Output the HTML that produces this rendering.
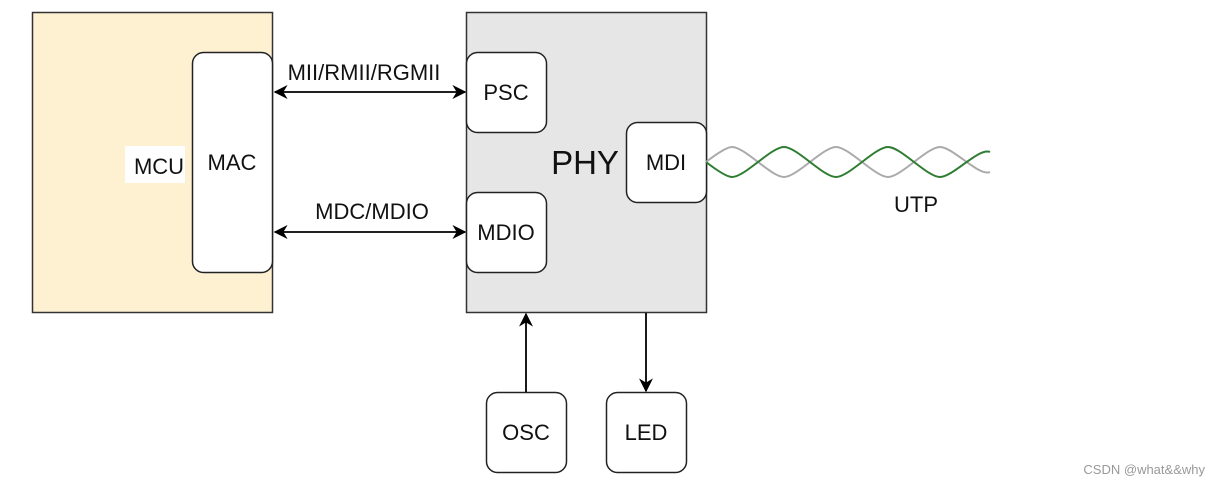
<!DOCTYPE html>
<html><head><style>
body{margin:0;background:#fff;}
svg{display:block;font-family:"Liberation Sans",sans-serif;}
</style></head><body>
<svg width="1219" height="487" viewBox="0 0 1219 487">
<defs>
<marker id="a" viewBox="0 0 10 10" refX="9" refY="5" markerWidth="14" markerHeight="14" markerUnits="userSpaceOnUse" orient="auto-start-reverse"><path d="M0,0 L10,5 L0,10 L3,5 z" fill="#000"/></marker>
</defs>
<rect x="32.5" y="12.5" width="240" height="300" fill="#fdf1d2" stroke="#333" stroke-width="1.5"/>
<rect x="125" y="146" width="60" height="37" fill="#fff"/>
<text x="159" y="174" font-size="22" text-anchor="middle" fill="#111">MCU</text>
<rect x="192.5" y="52.5" width="80" height="220" rx="11" fill="#fff" stroke="#222" stroke-width="1.5"/>
<text x="232" y="170" font-size="22" text-anchor="middle" fill="#111">MAC</text>
<rect x="466.5" y="12.5" width="240" height="300" fill="#e6e6e6" stroke="#333" stroke-width="1.5"/>
<text x="585" y="174" font-size="33" text-anchor="middle" fill="#111">PHY</text>
<rect x="466.5" y="52.5" width="80" height="80" rx="11" fill="#fff" stroke="#222" stroke-width="1.5"/>
<text x="506" y="100" font-size="22" text-anchor="middle" fill="#111">PSC</text>
<rect x="466.5" y="192.5" width="80" height="80" rx="11" fill="#fff" stroke="#222" stroke-width="1.5"/>
<text x="506" y="240" font-size="22" text-anchor="middle" fill="#111">MDIO</text>
<rect x="626.5" y="122.5" width="80" height="80" rx="11" fill="#fff" stroke="#222" stroke-width="1.5"/>
<text x="666" y="170" font-size="22" text-anchor="middle" fill="#111">MDI</text>
<rect x="486.5" y="392.5" width="80" height="80" rx="11" fill="#fff" stroke="#222" stroke-width="1.5"/>
<text x="526" y="440" font-size="22" text-anchor="middle" fill="#111">OSC</text>
<rect x="606.5" y="392.5" width="80" height="80" rx="11" fill="#fff" stroke="#222" stroke-width="1.5"/>
<text x="646" y="440" font-size="22" text-anchor="middle" fill="#111">LED</text>
<line x1="275" y1="92" x2="465" y2="92" stroke="#000" stroke-width="1.8" marker-start="url(#a)" marker-end="url(#a)"/>
<line x1="275" y1="232" x2="465" y2="232" stroke="#000" stroke-width="1.8" marker-start="url(#a)" marker-end="url(#a)"/>
<text x="364" y="80" font-size="22" text-anchor="middle" fill="#111">MII/RMII/RGMII</text>
<text x="372" y="219" font-size="22" text-anchor="middle" fill="#111">MDC/MDIO</text>
<line x1="526" y1="392" x2="526" y2="314" stroke="#000" stroke-width="1.8" marker-end="url(#a)"/>
<line x1="646" y1="313" x2="646" y2="391" stroke="#000" stroke-width="1.8" marker-end="url(#a)"/>
<path d="M706,162 C719,172 728,177 732,177 C745,177 771,147 784,147 C797,147 823,177 836,177 C849,177 875,147 888,147 C901,147 927,177 940,177 C953,177 979,147 990,152" fill="none" stroke="#aaa" stroke-width="2" transform="translate(0,324) scale(1,-1)"/>
<path d="M706,162 C719,172 728,177 732,177 C745,177 771,147 784,147 C797,147 823,177 836,177 C849,177 875,147 888,147 C901,147 927,177 940,177 C953,177 979,147 990,152" fill="none" stroke="#2e7d32" stroke-width="2"/>
<text x="916" y="212" font-size="22" text-anchor="middle" fill="#111">UTP</text>
<text x="1205" y="474" font-size="13" text-anchor="end" fill="#999">CSDN @what&amp;&amp;why</text>
</svg>
</body></html>
